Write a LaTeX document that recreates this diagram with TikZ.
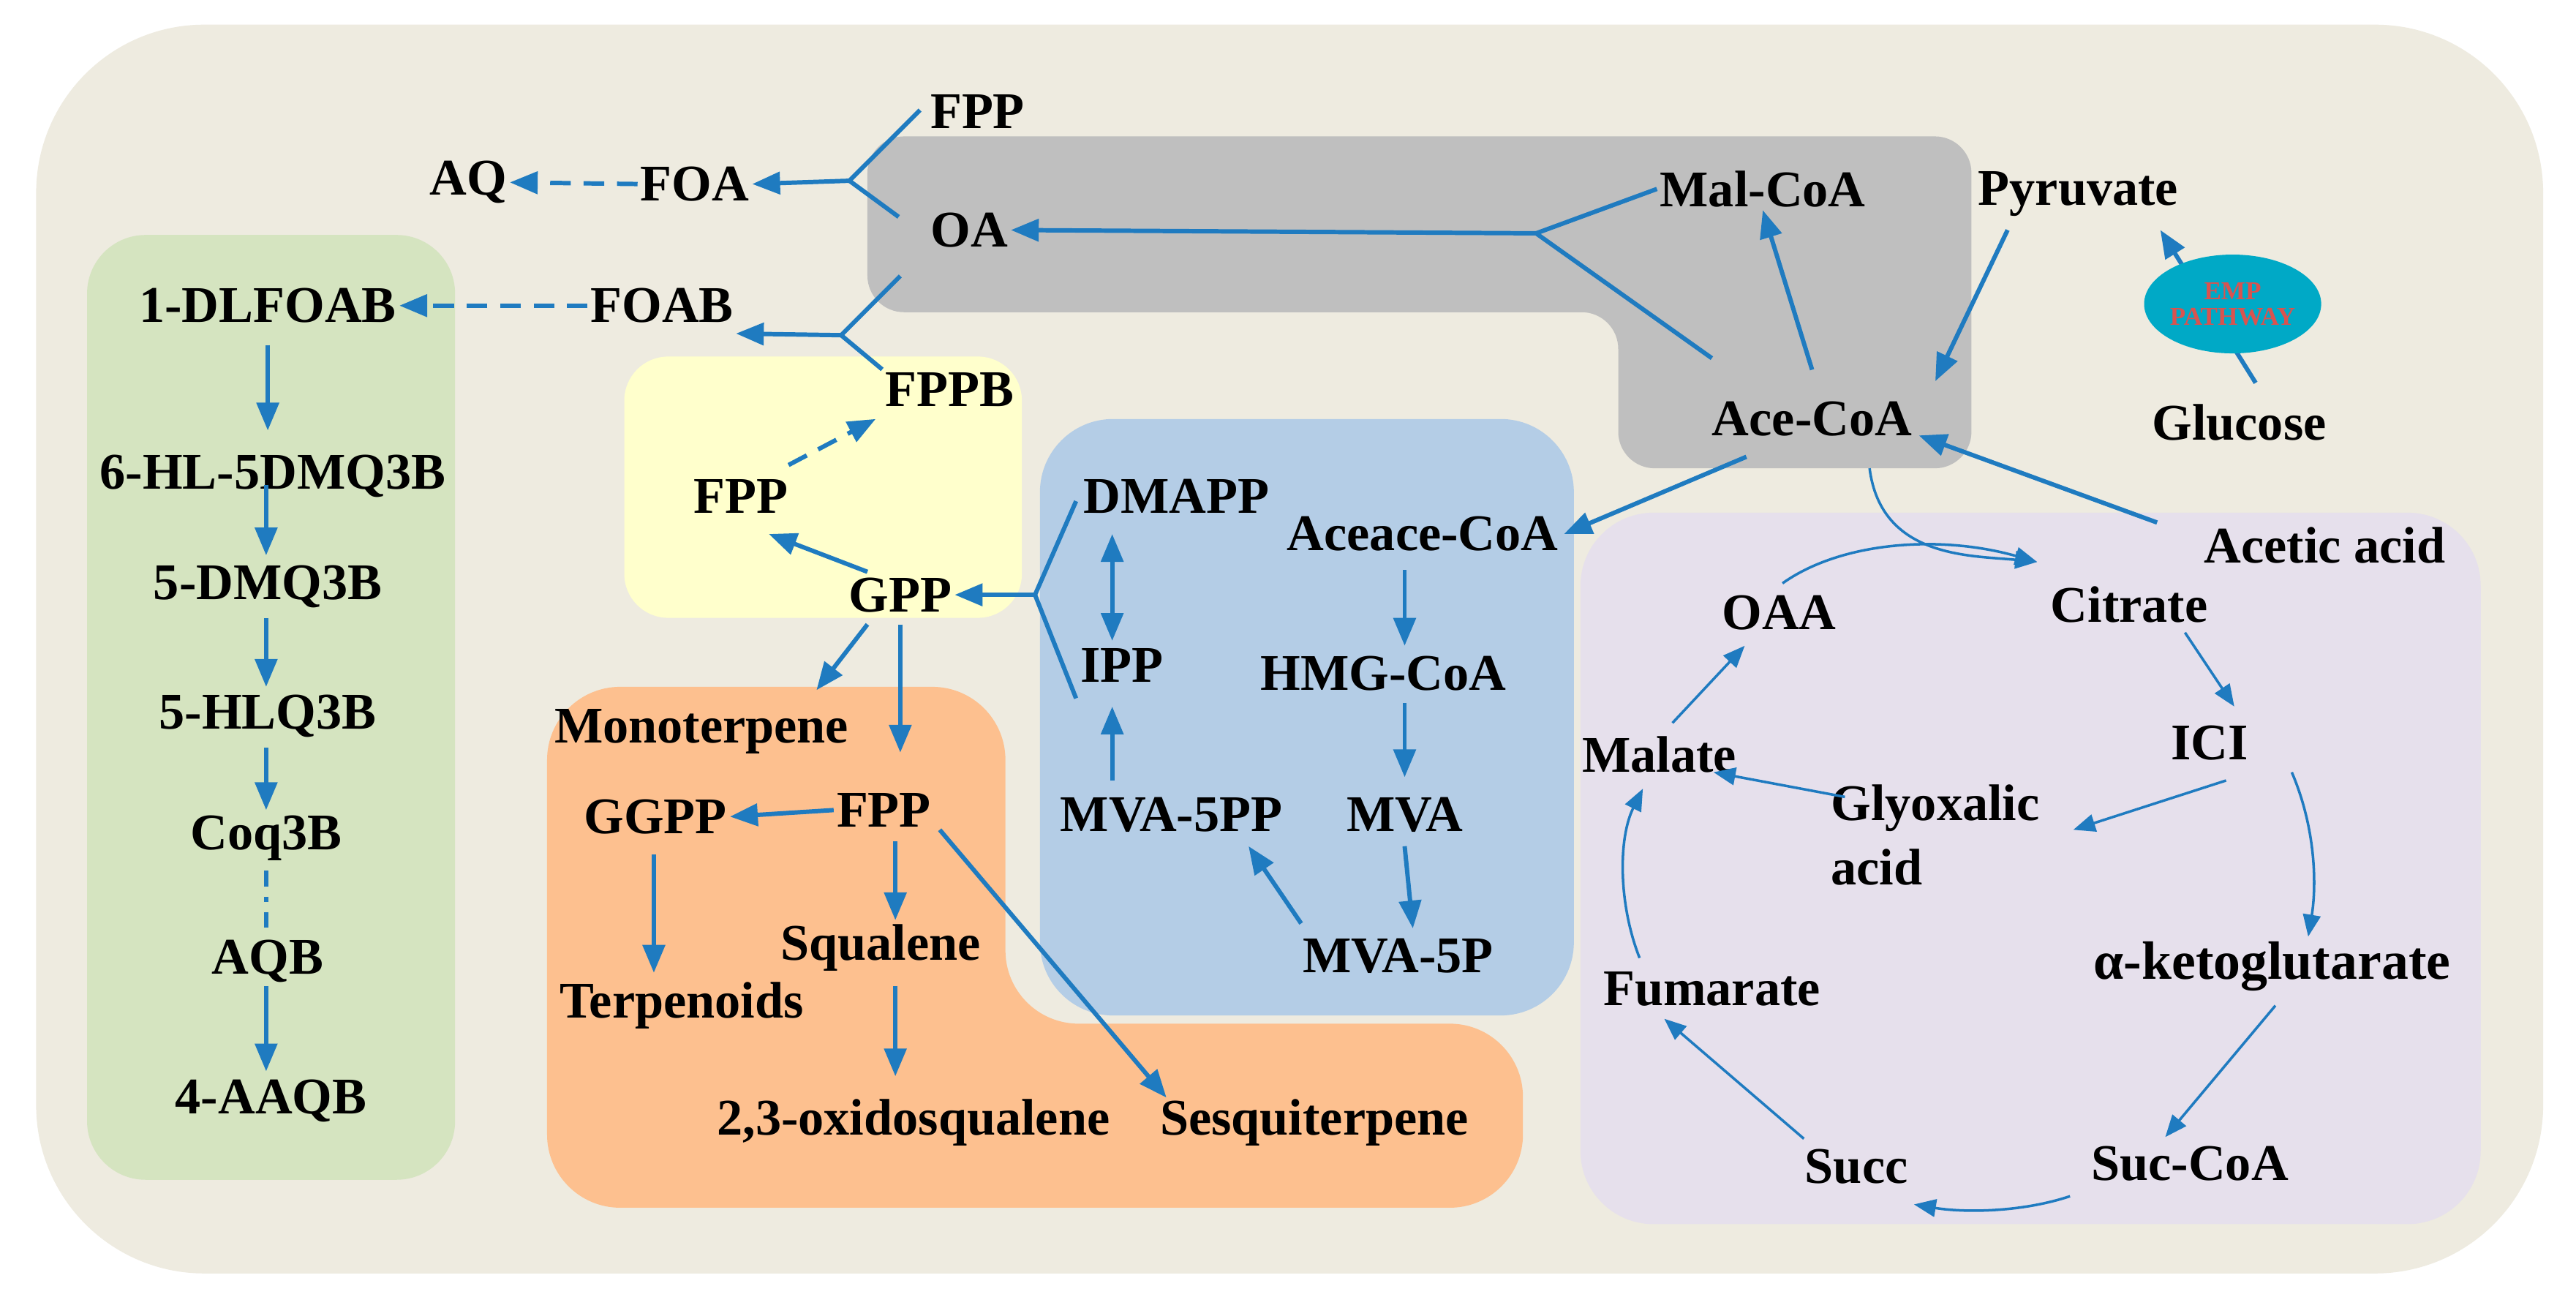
\documentclass[tikz,border=0pt]{standalone}
\usepackage{fontspec}
\setmainfont{Liberation Serif}
\usetikzlibrary{arrows.meta,shapes.geometric}
\definecolor{outer}{HTML}{EEEBE0}
\definecolor{grn}{HTML}{D5E4C0}
\definecolor{gry}{HTML}{BFBFBF}
\definecolor{yel}{HTML}{FFFFCC}
\definecolor{blu}{HTML}{B4CDE6}
\definecolor{org}{HTML}{FDC08F}
\definecolor{pur}{HTML}{E6E0EC}
\definecolor{arr}{HTML}{1F7BC0}
\definecolor{emp}{HTML}{00A9C6}
\definecolor{empt}{HTML}{D9534F}
\begin{document}
\begin{tikzpicture}[x=0.02246cm,y=-0.02246cm,
  t/.style={font=\bfseries\fontsize{20}{23}\selectfont,inner sep=1pt},
  a/.style={draw=arr,line width=1.7pt,-{Triangle[length=0.38cm,width=0.3cm]}},
  l/.style={draw=arr,line width=1.7pt},
  d/.style={a,dash pattern=on 8pt off 5pt},
  th/.style={draw=arr,line width=1pt,-{Triangle[length=0.3cm,width=0.24cm]}}]
\useasboundingbox (0,0) rectangle (1568,789);
\fill[white] (0,0) rectangle (1568,789);
\fill[outer,rounded corners=2.3cm] (22,15) rectangle (1548,775);
\fill[grn,rounded corners=0.8cm] (53,143) rectangle (277,718);
\fill[gry,rounded corners=0.5cm] (528,83) -- (1200,83) -- (1200,285) -- (985,285) -- (985,190) -- (528,190) -- cycle;
\fill[yel,rounded corners=0.6cm] (380,217) rectangle (622,376);
\fill[blu,rounded corners=1cm] (633,255) rectangle (958,618);
\fill[org,rounded corners=1cm] (333,418) -- (612,418) -- (612,623) -- (927,623) -- (927,735) -- (333,735) -- cycle;
\fill[pur,rounded corners=1cm] (962,312) rectangle (1510,745);
% nodes
\node[t] (fpp1) at (595,68) {FPP};
\node[t] (oa) at (590,140) {OA};
\node[t] (foa) at (423,112) {FOA};
\node[t] (aq) at (285,111) {AQ};
\node[t] (foab) at (403,186) {FOAB};
\node[t] (dlfoab) at (163,186) {1-DLFOAB};
\node[t] (fppb) at (578,237) {FPPB};
\node[t] (fpp2) at (451,302) {FPP};
\node[t] (gpp) at (548,362) {GPP};
\node[t] (dmapp) at (716,302) {DMAPP};
\node[t] (ipp) at (683,405) {IPP};
\node[t] (aceace) at (866,325) {Aceace-CoA};
\node[t] (hmg) at (842,410) {HMG-CoA};
\node[t] (mva) at (855,496) {MVA};
\node[t] (mva5pp) at (713,496) {MVA-5PP};
\node[t] (mva5p) at (851,582) {MVA-5P};
\node[t] (malcoa) at (1073,115) {Mal-CoA};
\node[t] (pyr) at (1265,118) {Pyruvate};
\node[t] (acecoa) at (1103,255) {Ace-CoA};
\node[t] (glu) at (1363,257) {Glucose};
\node[t] (acet) at (1415,332) {Acetic acid};
\node[t] (cit) at (1296,368) {Citrate};
\node[t] (oaa) at (1083,373) {OAA};
\node[t] (ici) at (1345,452) {ICI};
\node[t] (mal) at (1010,459) {Malate};
\node[t,align=left] (gly) at (1178,508) {Glyoxalic\\[2pt]acid};
\node[t,font=\bfseries\fontsize{21}{24}\selectfont] (akg) at (1383,588) {α-ketoglutarate};
\node[t] (fum) at (1042,602) {Fumarate};
\node[t] (succ) at (1130,710) {Succ};
\node[t] (succoa) at (1333,708) {Suc-CoA};
\node[t] (mono) at (427,445) {Monoterpene};
\node[t] (fpp3) at (538,493) {FPP};
\node[t] (ggpp) at (399,497) {GGPP};
\node[t] (squ) at (536,577) {Squalene};
\node[t] (terp) at (415,612) {Terpenoids};
\node[t] (oxs) at (556,683) {2,3-oxidosqualene};
\node[t] (sesq) at (800,683) {Sesquiterpene};
\node[t] (hl) at (166,290) {6-HL-5DMQ3B};
\node[t] (dmq) at (163,357) {5-DMQ3B};
\node[t] (hlq) at (163,436) {5-HLQ3B};
\node[t] (coq) at (162,510) {Coq3B};
\node[t] (aqb) at (163,585) {AQB};
\node[t] (aaqb) at (165,670) {4-AAQB};
% junction coordinates
\coordinate (j1) at (517,110);
\coordinate (j2) at (512,204);
\coordinate (j3) at (935,142);
\coordinate (j4) at (630,362);
% connectors
\draw[l] (560,67) -- (j1); \draw[l] (547,132) -- (j1);
\draw[a] (j1) -- (foa.east);
\draw[d] (foa.west) -- (aq.east);
\draw[l] (548,168) -- (j2); \draw[l] (fppb.north west) -- (j2);
\draw[a] (j2) -- (448,203);
\draw[d] (foab.west) -- (dlfoab.east);
\draw[l] (malcoa.west) -- (j3); \draw[l] (1042,218) -- (j3);
\draw[a] (j3) -- (oa.east);
\draw[a] (1103,225) -- (malcoa.south);
\draw[a] (1222,140) -- (1178,232);
\draw[a] (1373,233) -- (1315,140);
\node[ellipse,fill=emp,minimum width=2.4cm,minimum height=1.35cm,inner sep=0pt,
  font=\bfseries\fontsize{10}{10}\selectfont,text=empt,align=center] (empn) at (1359,185) {EMP\\PATHWAY};
\draw[a] (1313,318) -- (1168,265);
\draw[a] (1063,278) -- (952,325);
\draw[th] (1138,285) .. controls (1145,340) and (1200,338) .. (1240,342);
\draw[a] (855,347) -- (855,393);
\draw[a] (855,428) -- (855,473);
\draw[a] (855,515) -- (860,565);
\draw[a] (792,562) -- (760,515);
\draw[a] (677,475) -- (677,430);
\draw[draw=arr,line width=1.7pt,{Triangle[length=0.38cm,width=0.3cm]}-{Triangle[length=0.38cm,width=0.3cm]}] (677,325) -- (677,390);
\draw[l] (655,305) -- (j4); \draw[l] (655,425) -- (j4);
\draw[a] (j4) -- (gpp.east);
\draw[a] (528,348) -- (468,325);
\draw[d] (480,283) -- (533,255);
\draw[a] (528,380) -- (497,420);
\draw[a] (548,380) -- (548,458);
\draw[a] (fpp3.west) -- (ggpp.east);
\draw[a] (545,512) -- (545,560);
\draw[a] (545,600) -- (545,655);
\draw[a] (572,505) -- (710,668);
\draw[a] (398,520) -- (398,592);
\draw[a] (163,210) -- (163,262);
\draw[a] (162,295) -- (162,338);
\draw[a] (162,376) -- (162,418);
\draw[a] (162,455) -- (162,493);
\draw[l,dash pattern=on 6pt off 4pt on 2pt off 4pt] (162,530) -- (162,567);
\draw[a] (162,600) -- (162,652);
% TCA
\draw[th] (1085,355) .. controls (1120,330) and (1180,325) .. (1240,342);
\draw[th] (1330,385) -- (1360,430);
\draw[th] (1355,475) -- (1262,505);
\draw[th] (1123,485) -- (1043,470);
\draw[th] (1395,470) .. controls (1410,505) and (1410,540) .. (1405,570);
\draw[th] (1385,612) -- (1318,692);
\draw[th] (1260,728) .. controls (1230,738) and (1195,738) .. (1165,733);
\draw[th] (1098,693) -- (1013,620);
\draw[th] (998,583) .. controls (985,550) and (985,510) .. (1000,480);
\draw[th] (1018,440) -- (1062,393);
\end{tikzpicture}
\end{document}
